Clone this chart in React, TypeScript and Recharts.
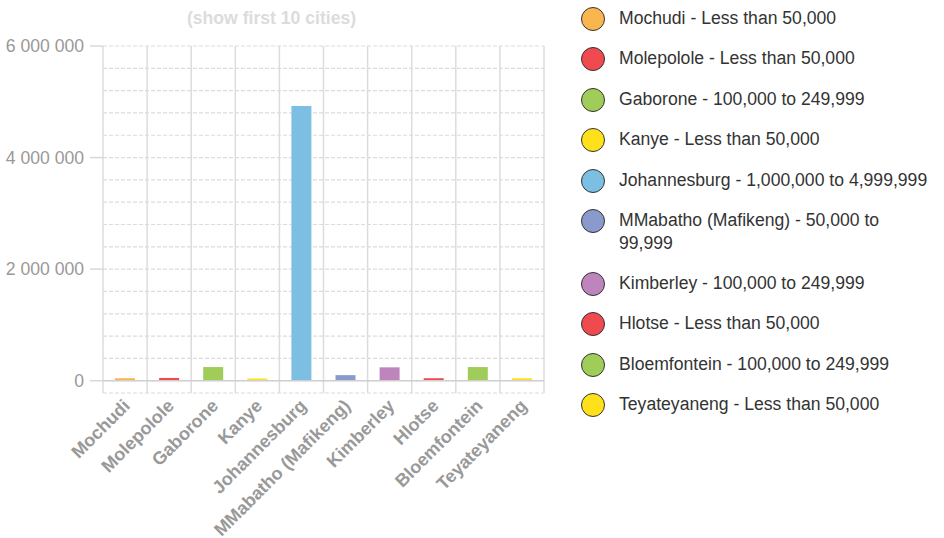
import { Bar, BarChart, CartesianGrid, Cell, ReferenceLine, XAxis, YAxis } from "recharts"

const cities = [
  "Mochudi",
  "Molepolole",
  "Gaborone",
  "Kanye",
  "Johannesburg",
  "MMabatho (Mafikeng)",
  "Kimberley",
  "Hlotse",
  "Bloemfontein",
  "Teyateyaneng",
]
const population = [45000, 50000, 245000, 40000, 4925000, 100000, 240000, 45000, 245000, 45000]
const sizeClass = [
  "Less than 50,000",
  "Less than 50,000",
  "100,000 to 249,999",
  "Less than 50,000",
  "1,000,000 to 4,999,999",
  "50,000 to 99,999",
  "100,000 to 249,999",
  "Less than 50,000",
  "100,000 to 249,999",
  "Less than 50,000",
]
const colors = [
  "#f9b64f",
  "#ef4a50",
  "#a0cd5a",
  "#ffe11b",
  "#7dbfe2",
  "#8a9acd",
  "#bd85bb",
  "#ef4a50",
  "#a0cd5a",
  "#ffe11b",
]
const yTicks = [0, 400000, 800000, 1200000, 1600000, 2000000, 2400000, 2800000, 3200000, 3600000, 4000000, 4400000, 4800000, 5200000, 5600000, 6000000]
const yLabelTicks = [0, 2000000, 4000000, 6000000]

const data = cities.map((city, i) => ({ city, population: population[i] }))

const FONT = '"Liberation Sans", Arial, Helvetica, sans-serif'

const fmt = (v: number) => String(v).replace(/\B(?=(\d{3})+(?!\d))/g, " ")

// solid lines on the category boundaries, not through the bars
const boundaryLines = ({ offset }: any) =>
  [...cities.map((_, i) => offset.left + (i * offset.width) / cities.length), offset.left + offset.width]

function YTick(props: any) {
  const { x, y, payload } = props
  if (!yLabelTicks.includes(payload.value)) return <g />
  return (
    <g>
      <line x1={x + 6} x2={x + 19} y1={y} y2={y} stroke="#d8d8d8" strokeWidth={1.5} />
      <text x={x} y={y} dy={6} textAnchor="end" fill="#999" fontSize={17.6} fontFamily={FONT}>
        {fmt(payload.value)}
      </text>
    </g>
  )
}

function XTick(props: any) {
  const { x, y, payload } = props
  const ax = x + 6
  const ay = y + 6
  return (
    <text
      x={ax}
      y={ay}
      transform={`rotate(-45, ${ax}, ${ay})`}
      textAnchor="end"
      fill="#999"
      fontSize={18}
      fontWeight="bold"
      fontFamily={FONT}
    >
      {payload.value}
    </text>
  )
}

export default function App() {
  return (
    <div style={{ position: "absolute", left: 0, top: 0, width: 944, height: 538, background: "#fff", fontFamily: FONT }}>
      <div
        style={{
          position: "absolute",
          left: 0,
          top: 8,
          width: 543,
          textAlign: "center",
          fontWeight: "bold",
          fontSize: 17.6,
          color: "#dcdcdc",
        }}
      >
        (show first 10 cities)
      </div>
      <BarChart width={560} height={538} data={data} margin={{ top: 46, right: 16, left: 0, bottom: 0 }}>
        <CartesianGrid vertical={false} stroke="#dcdcdc" strokeWidth={1.2} strokeDasharray="4 2" />
        <CartesianGrid horizontal={false} verticalCoordinatesGenerator={boundaryLines} stroke="#dcdcdc" strokeWidth={1.5} />
        <XAxis dataKey="city" interval={0} height={145} axisLine={false} tickLine={false} tick={<XTick />} />
        <YAxis
          width={103}
          domain={[-220000, 6000000]}
          ticks={yTicks}
          interval={0}
          allowDataOverflow
          axisLine={false}
          tickLine={false}
          tickSize={13}
          tickMargin={6}
          tick={<YTick />}
        />
        <ReferenceLine y={0} stroke="#d0d0d0" strokeWidth={1.5} />
        <Bar dataKey="population" barSize={20} isAnimationActive={false}>
          {data.map((d, i) => (
            <Cell key={d.city} fill={colors[i]} />
          ))}
        </Bar>
      </BarChart>
      <div style={{ position: "absolute", left: 581, top: 6.5, width: 347, fontSize: 17.6, lineHeight: "23px", color: "#333" }}>
        {cities.map((city, i) => (
          <div key={city} style={{ display: "flow-root", marginBottom: 16.5 }}>
            <span
              style={{
                float: "left",
                width: 22,
                height: 22,
                borderRadius: "50%",
                border: "1px solid #333",
                background: colors[i],
                marginRight: 14,
              }}
            />
            {city} - {sizeClass[i]}
          </div>
        ))}
      </div>
    </div>
  )
}
